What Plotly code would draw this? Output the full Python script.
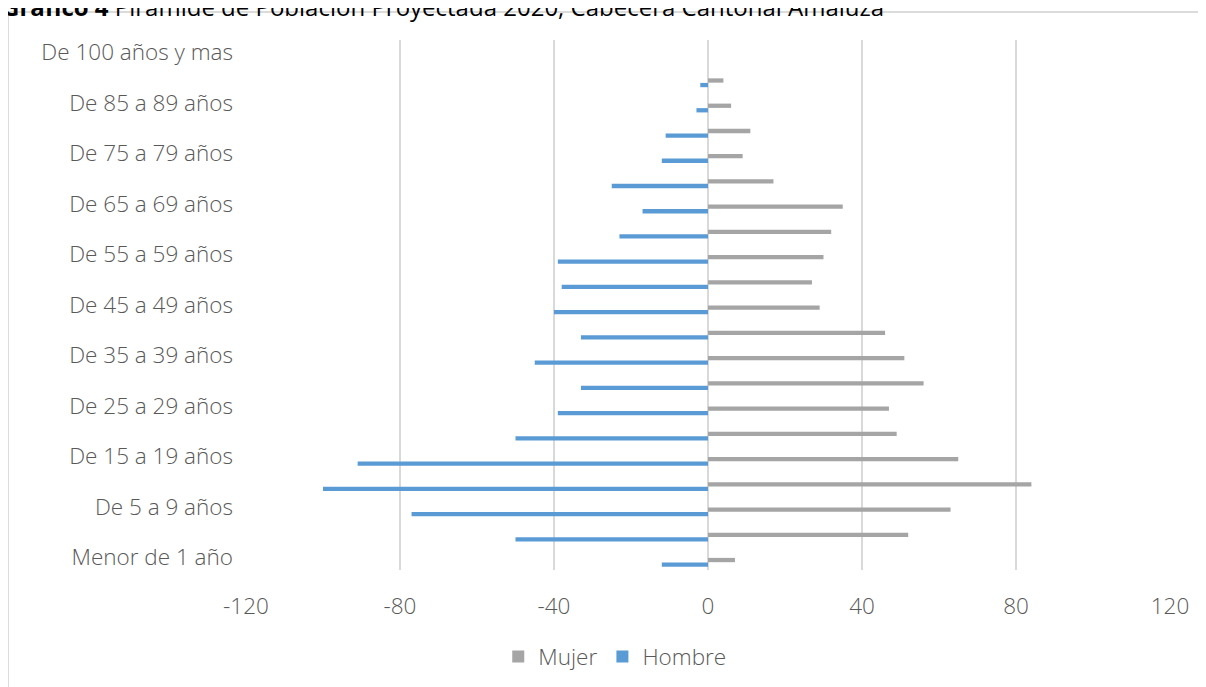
import plotly.graph_objects as go

# Grupos de edad (de abajo hacia arriba)
grupos = [
    "Menor de 1 año", "De 1 a 4 años", "De 5 a 9 años", "De 10 a 14 años",
    "De 15 a 19 años", "De 20 a 24 años", "De 25 a 29 años", "De 30 a 34 años",
    "De 35 a 39 años", "De 40 a 44 años", "De 45 a 49 años", "De 50 a 54 años",
    "De 55 a 59 años", "De 60 a 64 años", "De 65 a 69 años", "De 70 a 74 años",
    "De 75 a 79 años", "De 80 a 84 años", "De 85 a 89 años", "De 90 a 94 años",
    "De 100 años y mas",
]
mujer = [7, 52, 63, 84, 65, 49, 47, 56, 51, 46, 29, 27, 30, 32, 35, 17, 9, 11, 6, 4, 0]
hombre = [-12, -50, -77, -100, -91, -50, -39, -33, -45, -33, -40, -38, -39, -23, -17, -25, -12, -11, -3, -2, 0]

x_ticks = [-120, -80, -40, 0, 40, 80, 120]
x_labels = ["-120", "-80", "-40", "0", "40", "80", "120"]
y_ticks = grupos[::2]

gris_texto = "#595959"
fuente = "Open Sans, Roboto, Liberation Sans, sans-serif"

fig = go.Figure()
fig.add_trace(go.Bar(
    y=grupos, x=mujer, orientation="h", name="Mujer",
    marker=dict(color="#A5A5A5", line=dict(width=0)),
    width=0.17, offset=-0.19,
))
fig.add_trace(go.Bar(
    y=grupos, x=hombre, orientation="h", name="Hombre",
    marker=dict(color="#5B9BD5", line=dict(width=0)),
    width=0.17, offset=-0.37,
))

fig.update_layout(
    width=1206, height=687,
    margin=dict(l=238, r=44, t=32, b=125),
    plot_bgcolor="white", paper_bgcolor="white",
    barmode="overlay",
    font=dict(family=fuente, size=22.5, color=gris_texto, weight=300),
    showlegend=True,
    legend=dict(
        orientation="h", x=0.273, xanchor="left", y=-0.164, yanchor="middle",
        font=dict(size=22.5, color=gris_texto), traceorder="normal",
        itemwidth=30,
    ),
    xaxis=dict(
        range=[-120, 120], tickvals=x_ticks, ticktext=x_labels, showgrid=True,
        gridcolor="#d9d9d9", gridwidth=1.5, zeroline=True,
        zerolinecolor="#d9d9d9", zerolinewidth=1.5, showline=False,
        ticks="", ticklabelstandoff=20,
    ),
    yaxis=dict(
        type="category", categoryorder="array", categoryarray=grupos,
        range=[-0.5, len(grupos) - 0.5], tickvals=y_ticks,
        showgrid=False, zeroline=False, showline=False, ticks="",
        ticklabelstandoff=12,
    ),
)

# Borde del área del gráfico
fig.add_shape(
    type="rect", xref="paper", yref="paper",
    x0=-0.2576, x1=1.2, y0=-0.5, y1=1.0528,
    line=dict(color="#d0d0d0", width=1.5), fillcolor="rgba(0,0,0,0)",
    layer="below",
)

# Título (cortado en la parte superior, como en el original)
fig.add_annotation(
    xref="paper", yref="paper", x=-0.2662, y=1.064,
    xanchor="left", yanchor="middle", showarrow=False,
    text="<b>Gráfico 4</b> Pirámide de Población Proyectada 2020, Cabecera Cantonal Amaluza",
    font=dict(family=fuente, size=24, color="#000000", weight=400),
)

fig.write_html("out.html")
